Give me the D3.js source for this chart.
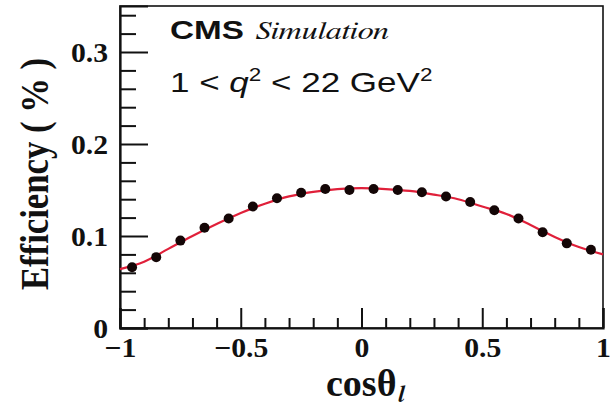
<!DOCTYPE html>
<html>
<head>
<meta charset="utf-8">
<script src="https://cdn.jsdelivr.net/npm/d3@7"></script>
<style>
  html, body { margin: 0; padding: 0; background: #fff; }
  svg { display: block; }
</style>
</head>
<body>
<svg id="chart" width="615" height="409"></svg>
<script>
// Efficiency versus cos(theta_l), 20 bins across [-1, 1]
const binCenters = [-0.95, -0.85, -0.75, -0.65, -0.55, -0.45, -0.35, -0.25, -0.15, -0.05,
                     0.05,  0.15,  0.25,  0.35,  0.45,  0.55,  0.65,  0.75,  0.85,  0.95];
const efficiency = [0.066, 0.077, 0.095, 0.109, 0.119, 0.132, 0.141, 0.147, 0.151, 0.150,
                    0.151, 0.150, 0.1475, 0.143, 0.137, 0.128, 0.119, 0.104, 0.092, 0.085];

// Fitted efficiency shape, sampled along the axis
const fitCos = [-1, -0.9, -0.8, -0.7, -0.6, -0.5, -0.4, -0.3, -0.2, -0.1, 0,
                 0.1, 0.2, 0.3, 0.4, 0.5, 0.6, 0.7, 0.8, 0.9, 1];
const fitEff = [0.064, 0.072, 0.086, 0.100, 0.113, 0.125, 0.135, 0.143, 0.148, 0.151, 0.152,
                0.151, 0.149, 0.145, 0.140, 0.132, 0.124, 0.112, 0.099, 0.088, 0.080];

// Axis ticks and their labels
const xTickValues = [-1, -0.5, 0, 0.5, 1];
const xTickLabels = ["\u22121", "\u22120.5", "0", "0.5", "1"];
const yTickValues = [0, 0.1, 0.2, 0.3];
const yTickLabels = ["0", "0.1", "0.2", "0.3"];

const frame = { left: 120, right: 603, top: 6, bottom: 328 };

const svg = d3.select("#chart");

const x = d3.scaleLinear().domain([-1, 1]).range([frame.left, frame.right]);
const y = d3.scaleLinear().domain([0, 0.35]).range([frame.bottom, frame.top]);

const serif = "'Liberation Serif', 'Times New Roman', serif";
const serifItalic = "FreeSerif, 'Liberation Serif', serif";
const sans = "'Liberation Sans', Arial, Helvetica, sans-serif";

// Frame
svg.append("rect")
  .attr("x", frame.left).attr("y", frame.top)
  .attr("width", frame.right - frame.left).attr("height", frame.bottom - frame.top)
  .attr("fill", "none").attr("stroke", "#111").attr("stroke-width", 1.6);

// Minor ticks
const xMinor = d3.range(-0.9, 1.0, 0.1).map(v => +v.toFixed(2)).filter(v => Math.abs(v * 2 - Math.round(v * 2)) > 1e-6);
const yMinor = d3.range(0.02, 0.35, 0.02).map(v => +v.toFixed(2)).filter(v => Math.abs(v * 10 - Math.round(v * 10)) > 1e-6);

svg.append("g")
  .attr("transform", `translate(0,${frame.bottom})`)
  .call(d3.axisBottom(x).tickValues(xMinor).tickSize(-10).tickFormat(""))
  .call(g => g.select(".domain").remove())
  .call(g => g.selectAll("line").attr("stroke", "#111").attr("stroke-width", 2));

svg.append("g")
  .attr("transform", `translate(${frame.left},0)`)
  .call(d3.axisLeft(y).tickValues(yMinor).tickSize(-16).tickFormat(""))
  .call(g => g.select(".domain").remove())
  .call(g => g.selectAll("line").attr("stroke", "#111").attr("stroke-width", 2));

// Major ticks with labels
const xAxis = svg.append("g")
  .attr("transform", `translate(0,${frame.bottom})`)
  .call(d3.axisBottom(x).tickValues(xTickValues).tickSize(-20)
        .tickFormat((d, i) => xTickLabels[i]));
xAxis.select(".domain").attr("stroke", "#111").attr("stroke-width", 2.2);
xAxis.selectAll("line").attr("stroke", "#111").attr("stroke-width", 2);
xAxis.selectAll("text")
  .attr("y", null).attr("dy", null)
  .attr("text-anchor", "middle")
  .attr("transform", "translate(0,29) scale(1.1,1)")
  .style("font-family", serif).style("font-weight", "bold")
  .style("font-size", "27px").attr("fill", "#111");

const yAxis = svg.append("g")
  .attr("transform", `translate(${frame.left},0)`)
  .call(d3.axisLeft(y).tickValues(yTickValues).tickSize(-28)
        .tickFormat((d, i) => yTickLabels[i]));
yAxis.select(".domain").attr("stroke", "#111").attr("stroke-width", 2.2);
yAxis.selectAll("line").attr("stroke", "#111").attr("stroke-width", 2);
yAxis.selectAll("text")
  .attr("x", null).attr("dy", null)
  .attr("text-anchor", "end")
  .attr("transform", "translate(-12,9.5) scale(1.1,1)")
  .style("font-family", serif).style("font-weight", "bold")
  .style("font-size", "27px").attr("fill", "#111");

// Axis titles
const xTitle = svg.append("text")
  .attr("transform", "translate(326,396)")
  .style("font-family", serif).style("font-weight", "bold").style("font-size", "38px")
  .attr("fill", "#111")
  .text("cos\u03b8");
const xTitleW = xTitle.node().getComputedTextLength();
svg.append("text")
  .attr("transform", `translate(${326 + xTitleW + 1},402)`)
  .style("font-family", serifItalic).style("font-style", "italic")
  .style("font-weight", "bold").style("font-size", "24px")
  .attr("fill", "#111")
  .text("l");

svg.append("text")
  .attr("transform", "translate(48,174) rotate(-90) scale(0.89,1)")
  .attr("text-anchor", "middle")
  .style("font-family", serif).style("font-weight", "bold").style("font-size", "39px")
  .attr("fill", "#111")
  .text("Efficiency ( % )");

// Fit curve
const line = d3.line()
  .x((d, i) => x(fitCos[i]))
  .y(d => y(d))
  .curve(d3.curveCatmullRom.alpha(0.5));

svg.append("path")
  .datum(fitEff)
  .attr("d", line)
  .attr("fill", "none")
  .attr("stroke", "#e0203a")
  .attr("stroke-width", 2.2);

// Simulated points
svg.append("g")
  .selectAll("circle")
  .data(efficiency)
  .join("circle")
  .attr("cx", (d, i) => x(binCenters[i]))
  .attr("cy", d => y(d))
  .attr("r", 5)
  .attr("fill", "#140606");

// Labels inside the frame
svg.append("text")
  .attr("transform", "translate(170,39) scale(1.33,1)")
  .style("font-family", sans).style("font-weight", "bold").style("font-size", "25px")
  .attr("fill", "#111").text("CMS");

const simLabel = svg.append("text")
  .attr("x", 0).attr("y", 0)
  .style("font-family", serifItalic).style("font-style", "italic").style("font-size", "25px")
  .attr("fill", "#111").text("Simulation");
// stretch the word so it runs from x=256 to x=389
const simW = simLabel.node().getComputedTextLength();
simLabel.attr("transform", `translate(256,39) scale(${133 / simW},1)`);

svg.append("text")
  .attr("transform", "translate(170,92) scale(1.25,1)")
  .style("font-family", sans).style("font-size", "28px")
  .attr("fill", "#111")
  .call(t => {
    t.append("tspan").text("1 < ");
    t.append("tspan").style("font-style", "italic").text("q");
    t.append("tspan").attr("dy", -11).style("font-size", "18px").text("2");
    t.append("tspan").attr("dy", 11).text(" < 22 GeV");
    t.append("tspan").attr("dy", -11).style("font-size", "18px").text("2");
  });
</script>
</body>
</html>
